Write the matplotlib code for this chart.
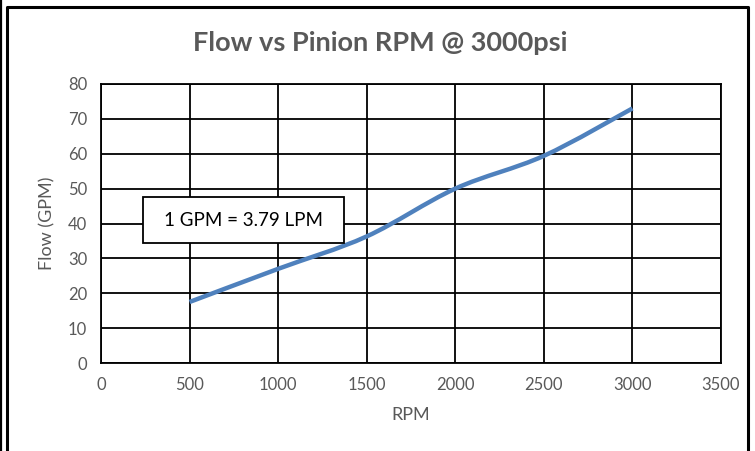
import matplotlib.pyplot as plt
from matplotlib.path import Path
from matplotlib.patches import PathPatch, Rectangle
from matplotlib.lines import Line2D
import numpy as np

plt.rcParams['font.family'] = ['Lato', 'DejaVu Sans']

rpm = [500, 1000, 1500, 2000, 2500, 3000]
flow = [17.5, 27.0, 36.3, 50.0, 59.4, 73.0]

x_ticks = [0, 500, 1000, 1500, 2000, 2500, 3000, 3500]
y_ticks = [0, 10, 20, 30, 40, 50, 60, 70, 80]

gray = '#595959'
blue = '#4F81BD'

fig = plt.figure(figsize=(7.55, 4.51), dpi=100)
ax = fig.add_axes([101/755, 1 - 363/451, 620/755, 279/451])

# smoothed line like Excel: cubic bezier through the points
pts = np.column_stack([rpm, flow]).astype(float)
verts = [tuple(pts[0])]
codes = [Path.MOVETO]
n = len(pts)
for i in range(n - 1):
    p0 = pts[i - 1] if i > 0 else pts[i]
    p1 = pts[i]
    p2 = pts[i + 1]
    p3 = pts[i + 2] if i + 2 < n else pts[i + 1]
    c1 = p1 + (p2 - p0) / 6
    c2 = p2 - (p3 - p1) / 6
    verts += [tuple(c1), tuple(c2), tuple(p2)]
    codes += [Path.CURVE4] * 3
ax.add_patch(PathPatch(Path(verts, codes), facecolor='none', edgecolor=blue,
                       lw=3.2, capstyle='butt', zorder=3))

ax.set_xlim(0, 3500)
ax.set_ylim(0, 80)
ax.set_xticks(x_ticks)
ax.set_yticks(y_ticks)
ax.grid(True, color='black', lw=1.3)
ax.set_axisbelow(True)
for s in ax.spines.values():
    s.set_color('black')
    s.set_linewidth(1.3)
ax.tick_params(length=0, labelsize=12, colors=gray, pad=10)

ax.set_xlabel('RPM', fontsize=13, color=gray, labelpad=10)
ax.set_ylabel('Flow (GPM)', fontsize=13, color=gray, labelpad=9)

fig.text(380/755, 1 - 43/451, 'Flow vs Pinion RPM @ 3000psi', ha='center', va='center',
         fontsize=19.5, fontweight='bold', color=gray)

# note box
fig.add_artist(Rectangle((143/755, 1 - 243/451), 201/755, 46/451, transform=fig.transFigure,
                         fc='white', ec='black', lw=1.3, zorder=5))
fig.text(244/755, 1 - 220/451, '1 GPM = 3.79 LPM', ha='center', va='center',
         fontsize=13.5, color='black', zorder=6)

# outer double border
fig.add_artist(Line2D([1/755, 1/755], [0, 1], color='black', lw=1.6, transform=fig.transFigure))
fig.add_artist(Line2D([7/755, 7/755, 748/755, 748/755], [0, 1 - 7/451, 1 - 7/451, 0],
                      color='black', lw=2.2, transform=fig.transFigure))

plt.savefig('out.png', dpi=100)
